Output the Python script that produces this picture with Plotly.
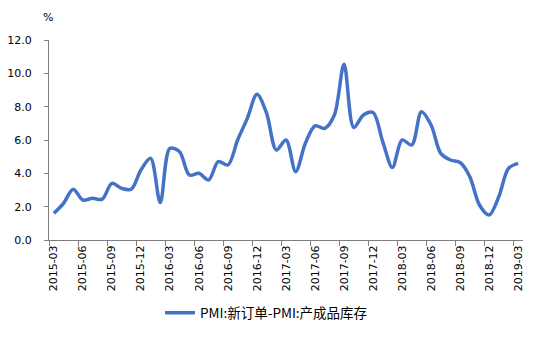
import plotly.graph_objects as go

months = []
y, m = 2015, 3
for _ in range(49):
    months.append(f"{y}-{m:02d}")
    m += 1
    if m > 12:
        m = 1
        y += 1

values = [1.6, 2.2, 3.05, 2.4, 2.5, 2.45, 3.4, 3.1, 3.05, 4.2,
          4.9, 2.25, 5.5, 5.3, 3.9, 4.0, 3.6, 4.7, 4.5, 6.0,
          7.3, 8.75, 7.6, 5.4, 6.0, 4.1, 5.8, 6.85, 6.7, 7.5,
          10.55, 6.75, 7.5, 7.65, 5.9, 4.35, 6.0, 5.7, 7.7, 6.9,
          5.2, 4.8, 4.65, 3.8, 2.1, 1.5, 2.6, 4.3, 4.6]

series_name = "PMI:新订单-PMI:产成品库存"
y_ticks = [0, 2, 4, 6, 8, 10, 12]

x_idx = list(range(len(months)))
label_idx = x_idx[::3]
label_text = [months[i] for i in label_idx]
boundary_ticks = [i - 0.5 for i in label_idx]

fig = go.Figure()
fig.add_trace(go.Scatter(
    x=x_idx, y=values, mode="lines", name=series_name,
    line=dict(color="#4472C4", width=3.5, shape="spline", smoothing=0.9),
))

fig.update_layout(
    width=541, height=337,
    margin=dict(l=49, r=18, t=40, b=97, autoexpand=False),
    plot_bgcolor="white", paper_bgcolor="white",
    font=dict(family="DejaVu Sans", size=11, color="#000000"),
    showlegend=True,
    legend=dict(orientation="h", x=(160 - 49) / 474, xanchor="left", y=-0.365, yanchor="middle",
                font=dict(family="Noto Sans CJK SC", size=13.5, color="#000000"),
                itemwidth=30),
    xaxis=dict(
        range=[-0.5, 48.5], tickmode="array", tickvals=label_idx, ticktext=label_text,
        tickangle=-90, ticks="", showgrid=False, zeroline=False, automargin=False,
        showline=True, linecolor="#7f7f7f", linewidth=1,
        tickfont=dict(family="DejaVu Sans", size=11),
        minor=dict(tickmode="array", tickvals=boundary_ticks, ticks="outside",
                   ticklen=5, tickcolor="#7f7f7f", showgrid=False),
    ),
    yaxis=dict(
        range=[0, 12], tickmode="array", tickvals=y_ticks,
        ticktext=[f"{v:.1f}" for v in y_ticks],
        ticks="outside", ticklen=4, tickcolor="#7f7f7f",
        showgrid=False, zeroline=False, automargin=False,
        showline=True, linecolor="#7f7f7f", linewidth=1,
        ticklabelstandoff=10,
        tickfont=dict(family="DejaVu Sans", size=11),
    ),
    annotations=[dict(text="%", x=0, xref="paper", xanchor="left", xshift=-8,
                      y=(240 - 18) / 200, yref="paper", yanchor="middle",
                      showarrow=False, font=dict(size=11, family="DejaVu Sans"))],
)

fig.write_html("out.html")
